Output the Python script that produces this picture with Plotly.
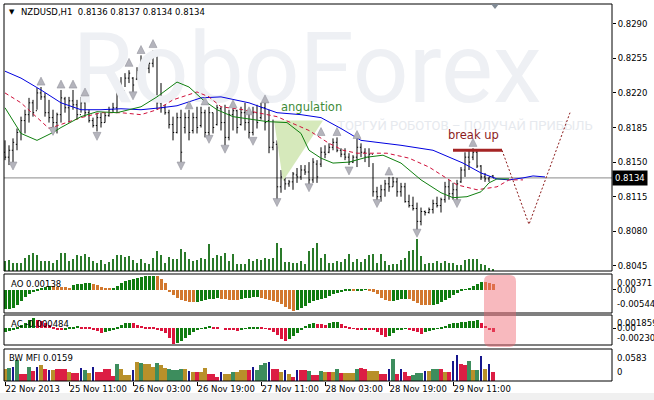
import plotly.graph_objects as go

W, H = 654, 400

BAR_INDEX = list(range(123))
OPEN = [0.8160,0.8155,0.8162,0.8168,0.8180,0.8192,0.8198,0.8210,0.8202,0.8220,
        0.8216,0.8200,0.8195,0.8190,0.8198,0.8214,0.8205,0.8212,0.8208,0.8198,
        0.8210,0.8200,0.8192,0.8187,0.8195,0.8190,0.8197,0.8203,0.8205,0.8228,
        0.8222,0.8235,0.8235,0.8234,0.8243,0.8252,0.8245,0.8250,0.8258,0.8210,
        0.8205,0.8200,0.8188,0.8180,0.8195,0.8185,0.8195,0.8182,0.8195,0.8187,
        0.8200,0.8180,0.8200,0.8188,0.8204,0.8190,0.8175,0.8198,0.8202,0.8188,
        0.8200,0.8190,0.8180,0.8200,0.8195,0.8205,0.8192,0.8165,0.8168,0.8125,
        0.8132,0.8128,0.8130,0.8137,0.8135,0.8142,0.8140,0.8132,0.8148,0.8148,
        0.8160,0.8160,0.8165,0.8170,0.8162,0.8158,0.8155,0.8150,0.8155,0.8165,
        0.8160,0.8155,0.8158,0.8120,0.8115,0.8122,0.8128,0.8125,0.8130,0.8120,
        0.8125,0.8110,0.8106,0.8103,0.8090,0.8100,0.8099,0.8102,0.8108,0.8106,
        0.8112,0.8125,0.8118,0.8122,0.8130,0.8142,0.8155,0.8155,0.8160,0.8146,
        0.8135,0.8133,0.8136]
HIGH = [0.8172,0.8167,0.8174,0.8184,0.8196,0.8203,0.8215,0.8213,0.8225,0.8226,
        0.8220,0.8213,0.8203,0.8200,0.8223,0.8216,0.8216,0.8223,0.8213,0.8216,
        0.8216,0.8203,0.8195,0.8200,0.8200,0.8200,0.8206,0.8210,0.8231,0.8236,
        0.8240,0.8243,0.8236,0.8246,0.8258,0.8256,0.8253,0.8263,0.8260,0.8230,
        0.8208,0.8203,0.8196,0.8200,0.8203,0.8200,0.8203,0.8200,0.8206,0.8206,
        0.8203,0.8206,0.8200,0.8208,0.8206,0.8208,0.8203,0.8204,0.8203,0.8206,
        0.8210,0.8199,0.8206,0.8208,0.8210,0.8211,0.8203,0.8193,0.8172,0.8142,
        0.8134,0.8132,0.8140,0.8144,0.8147,0.8147,0.8150,0.8154,0.8152,0.8165,
        0.8167,0.8169,0.8174,0.8175,0.8164,0.8164,0.8159,0.8157,0.8174,0.8169,
        0.8164,0.8164,0.8149,0.8125,0.8127,0.8132,0.8135,0.8135,0.8134,0.8129,
        0.8129,0.8117,0.8115,0.8109,0.8104,0.8101,0.8104,0.8112,0.8115,0.8114,
        0.8130,0.8132,0.8129,0.8132,0.8145,0.8160,0.8162,0.8164,0.8162,0.8147,
        0.8139,0.8135,0.8137]
LOW = [0.8152,0.8147,0.8149,0.8162,0.8172,0.8179,0.8190,0.8196,0.8203,0.8213,
       0.8196,0.8190,0.8185,0.8179,0.8190,0.8200,0.8190,0.8203,0.8193,0.8200,
       0.8196,0.8190,0.8185,0.8181,0.8185,0.8190,0.8196,0.8200,0.8200,0.8216,
       0.8226,0.8230,0.8221,0.8233,0.8236,0.8240,0.8240,0.8246,0.8203,0.8200,
       0.8198,0.8184,0.8172,0.8179,0.8150,0.8179,0.8172,0.8179,0.8179,0.8185,
       0.8175,0.8175,0.8179,0.8187,0.8182,0.8167,0.8172,0.8182,0.8179,0.8187,
       0.8182,0.8174,0.8177,0.8184,0.8193,0.8182,0.8159,0.8162,0.8112,0.8119,
       0.8122,0.8125,0.8122,0.8129,0.8132,0.8137,0.8127,0.8129,0.8129,0.8145,
       0.8154,0.8159,0.8162,0.8160,0.8155,0.8152,0.8147,0.8149,0.8145,0.8155,
       0.8150,0.8145,0.8115,0.8110,0.8110,0.8115,0.8120,0.8125,0.8115,0.8115,
       0.8109,0.8104,0.8101,0.8081,0.8086,0.8096,0.8098,0.8098,0.8104,0.8099,
       0.8109,0.8112,0.8112,0.8110,0.8129,0.8135,0.8142,0.8152,0.8144,0.8132,
       0.8130,0.8130,0.8134]
CLOSE = [0.8155,0.8162,0.8170,0.8180,0.8192,0.8198,0.8210,0.8200,0.8220,0.8216,
         0.8200,0.8195,0.8190,0.8198,0.8215,0.8205,0.8212,0.8208,0.8198,0.8210,
         0.8200,0.8192,0.8187,0.8195,0.8190,0.8197,0.8203,0.8205,0.8228,0.8222,
         0.8235,0.8240,0.8228,0.8243,0.8252,0.8245,0.8250,0.8258,0.8210,0.8205,
         0.8200,0.8188,0.8180,0.8195,0.8160,0.8195,0.8180,0.8195,0.8185,0.8200,
         0.8180,0.8200,0.8185,0.8205,0.8190,0.8175,0.8198,0.8202,0.8185,0.8200,
         0.8190,0.8180,0.8200,0.8190,0.8205,0.8190,0.8165,0.8170,0.8125,0.8135,
         0.8128,0.8130,0.8138,0.8135,0.8142,0.8140,0.8132,0.8150,0.8135,0.8160,
         0.8158,0.8165,0.8170,0.8162,0.8158,0.8155,0.8150,0.8155,0.8165,0.8160,
         0.8155,0.8158,0.8120,0.8115,0.8122,0.8128,0.8125,0.8130,0.8120,0.8125,
         0.8110,0.8106,0.8103,0.8090,0.8100,0.8099,0.8102,0.8108,0.8106,0.8112,
         0.8125,0.8118,0.8122,0.8128,0.8142,0.8155,0.8150,0.8160,0.8146,0.8135,
         0.8133,0.8135,0.8134]

VOLUME = [1000,1070,840,770,840,1340,1570,1840,1570,1000,
          1000,1000,840,1070,1770,1770,1000,1240,1570,1500,
          1670,1440,1000,840,1100,740,900,1170,1570,1570,
          1440,1500,1070,840,1170,840,740,1340,2000,1570,
          840,1400,1170,1170,2170,1900,1170,1000,1100,1340,
          1170,2670,1340,1600,1500,1840,1000,1670,740,740,
          740,1240,1000,1170,1100,1340,1170,1340,2770,2340,
          900,900,840,840,1000,740,2000,2340,2840,1340,
          1670,840,840,1000,900,1170,1670,900,1170,900,
          1240,1570,1670,840,1670,1000,570,740,740,1100,
          1340,2000,2100,3170,1500,670,840,840,1000,840,
          1000,770,840,570,570,1100,1170,1170,1170,670,
          570,340,240]

# Alligator (knots)
JAW_X = [0,4,9,14,19,24,29,34,39,43,49,54,61,68,74,79,84,89,99,107,114.5,119,123,126,129.5,132,135]
JAW_Y = [0.8242,0.8235,0.8223,0.8210,0.8203,0.8203,0.8204,0.8203,0.8205,0.8207,0.8215,0.8216,0.8210,
         0.8200,0.8198,0.8195,0.8184,0.8172,0.8167,0.8162,0.8149,0.8139,0.8133,0.8132,0.8134,0.8136,0.8135]
TEETH_X = [0,4,11,19,24,29,34,38,42,48,51,54,59.5,68,76,81,84.5,88,95.5,101,106,113,118,123,126,129.5]
TEETH_Y = [0.8220,0.8210,0.8184,0.8195,0.8200,0.8200,0.8198,0.8203,0.8213,0.8221,0.8216,0.8206,0.8203,
           0.8196,0.8182,0.8169,0.8162,0.8159,0.8159,0.8154,0.8145,0.8127,0.8122,0.8125,0.8132,0.8132]
LIPS_X = [0,4,8,12,14,19,23,28,34,38,43,46,49.5,53,57,65.5,70.5,74,76,79,82,86,90.5,94.5,99,104,109,112,115.5,119,121,123,126]
LIPS_Y = [0.8205,0.8179,0.8172,0.8180,0.8185,0.8196,0.8201,0.8200,0.8206,0.8216,0.8231,0.8226,0.8213,
          0.8203,0.8196,0.8191,0.8190,0.8179,0.8162,0.8154,0.8149,0.8150,0.8155,0.8157,0.8149,0.8132,
          0.8119,0.8114,0.8115,0.8120,0.8129,0.8133,0.8133]

FRACTAL_UP_X = [9,14,17,20,31,34,37,46,50,57,61,65,79,83,88,96,117]
FRACTAL_UP_Y = [0.8236,0.8233,0.8233,0.8225,0.8255,0.8268,0.8274,0.8212,0.8216,0.8213,0.8206,0.8218,
                0.8185,0.8185,0.8182,0.8145,0.8174]
FRACTAL_DN_X = [2,12,23,32,44,51,55,62,68,76,86,93,103,113]
FRACTAL_DN_Y = [0.8142,0.8177,0.8172,0.8213,0.8142,0.8169,0.8159,0.8167,0.8105,0.8120,0.8137,0.8104,
                0.8074,0.8104]

ANGULATION_X = [67.25, 79.5, 69.5]
ANGULATION_Y = [0.8192, 0.8192, 0.8131]
BREAK_X = [112, 124.25]
BREAK_Y = [0.8162, 0.8162]
FORECAST_X = [124.25, 131, 141.25]
FORECAST_Y = [0.8162, 0.8087, 0.8200]

AO = [-0.00458,-0.00450,-0.00434,-0.00364,-0.00262,-0.00176,-0.00098,-0.00051,-0.00012,0.00035,
      0.00067,0.00090,0.00088,0.00074,0.00067,0.00059,0.00051,0.00106,0.00129,0.00145,
      0.00153,0.00160,0.00137,0.00113,0.00074,0.00051,0.00027,0.00043,0.00090,0.00153,
      0.00199,0.00239,0.00262,0.00285,0.00301,0.00317,0.00325,0.00332,0.00317,0.00262,
      0.00168,-0.00051,-0.00129,-0.00192,-0.00239,-0.00262,-0.00278,-0.00285,-0.00278,-0.00262,
      -0.00239,-0.00223,-0.00207,-0.00199,-0.00207,-0.00223,-0.00231,-0.00238,-0.00246,-0.00223,
      -0.00199,-0.00184,-0.00176,-0.00168,-0.00184,-0.00207,-0.00238,-0.00262,-0.00293,-0.00340,
      -0.00395,-0.00442,-0.00497,-0.00481,-0.00434,-0.00379,-0.00317,-0.00270,-0.00231,-0.00207,
      -0.00184,-0.00145,-0.00098,-0.00066,-0.00051,-0.00035,-0.00020,-0.00035,-0.00027,-0.00012,
      -0.00004,-0.00020,-0.00043,-0.00106,-0.00184,-0.00246,-0.00270,-0.00262,-0.00238,-0.00215,
      -0.00207,-0.00223,-0.00270,-0.00317,-0.00348,-0.00356,-0.00364,-0.00348,-0.00324,-0.00278,
      -0.00231,-0.00184,-0.00129,-0.00074,-0.00035,-0.00004,0.00051,0.00098,0.00145,0.00184,
      0.00180,0.00160,0.00138]

AC = [-0.00055,-0.00035,-0.00014,0.00014,0.00042,0.00069,0.00111,0.00139,0.00111,0.00097,
      0.00069,0.00042,0.00014,-0.00014,-0.00028,-0.00014,0.00007,0.00021,0.00028,0.00021,
      0.00014,0.00007,-0.00014,-0.00042,-0.00069,-0.00055,-0.00035,-0.00014,0.00014,0.00042,
      0.00069,0.00076,0.00069,0.00049,0.00035,0.00021,0.00014,0.00007,-0.00014,-0.00042,
      -0.00069,-0.00139,-0.00215,-0.00208,-0.00180,-0.00139,-0.00097,-0.00055,-0.00028,-0.00007,
      0.00014,0.00028,0.00021,0.00014,0.00000,-0.00014,-0.00021,-0.00028,-0.00035,-0.00021,
      -0.00007,0.00007,0.00014,0.00021,0.00014,-0.00007,-0.00028,-0.00055,-0.00097,-0.00152,
      -0.00180,-0.00152,-0.00111,-0.00069,-0.00014,0.00028,0.00055,0.00076,0.00062,0.00055,
      0.00049,0.00069,0.00083,0.00090,0.00055,0.00028,0.00014,-0.00007,-0.00014,-0.00021,
      -0.00014,-0.00017,-0.00028,-0.00055,-0.00097,-0.00125,-0.00111,-0.00069,-0.00028,-0.00014,
      -0.00007,-0.00028,-0.00042,-0.00055,-0.00076,-0.00055,-0.00042,-0.00028,-0.00007,0.00014,
      0.00035,0.00055,0.00069,0.00076,0.00083,0.00090,0.00097,0.00104,0.00111,0.00069,
      0.00028,-0.00014,-0.000484]

MFI = [0.0224,0.0237,0.0255,0.0377,0.0133,0.0133,0.0255,0.0182,0.0255,0.0286,
       0.0213,0.0206,0.0206,0.0218,0.0218,0.0218,0.0164,0.0146,0.0146,0.0237,
       0.0206,0.0151,0.0255,0.0164,0.0164,0.0224,0.0224,0.0091,0.0315,0.0213,
       0.0104,0.0104,0.0206,0.0346,0.0328,0.0315,0.0315,0.0255,0.0333,0.0286,
       0.0237,0.0213,0.0206,0.0206,0.0224,0.0224,0.0177,0.0164,0.0164,0.0164,
       0.0237,0.0133,0.0133,0.0073,0.0164,0.0133,0.0133,0.0164,0.0164,0.0206,
       0.0206,0.0195,0.0255,0.0195,0.0286,0.0333,0.0346,0.0224,0.0213,0.0164,
       0.0195,0.0133,0.0073,0.0195,0.0195,0.0195,0.0177,0.0104,0.0104,0.0177,
       0.0164,0.0164,0.0164,0.0224,0.0151,0.0151,0.0151,0.0151,0.0224,0.0237,
       0.0224,0.0182,0.0182,0.0177,0.0133,0.0133,0.0224,0.0395,0.0133,0.0224,
       0.0164,0.0091,0.0104,0.0146,0.0146,0.0177,0.0177,0.0213,0.0224,0.0224,
       0.0164,0.0164,0.0359,0.0468,0.0315,0.0297,0.0359,0.0195,0.0195,0.0450,
       0.0224,0.0315,0.0159]
MFI_STATE = list("OGBGRRGRBO" "RBORRRORRB" "GOBRRRRRGO" "OOBOGOOOGO" "OGGGGOBORO"
                 "ORRRBOOGOO" "ORBGGGBRRO" "BORBRRGRRG" "OROGROOOGR" "ROOORRBGRB"
                 "RRGGGBOGGR" "ORBBRRGOGB" "OBR")

TIME_TICKS = [0, 16, 32, 48, 64, 80, 96, 112]
TIME_LABELS = ["22 Nov 2013", "25 Nov 11:00", "26 Nov 03:00", "26 Nov 19:00",
               "27 Nov 11:00", "28 Nov 03:00", "28 Nov 19:00", "29 Nov 11:00"]
PRICE_TICKS = [0.8045, 0.8080, 0.8115, 0.8150, 0.8185, 0.8220, 0.8255, 0.8290]
LAST_PRICE = 0.8134

FONT = "DejaVu Sans"
GREEN = "#107c10"
ORANGE = "#d2782e"
CRIMSON = "#dc143c"
MFI_COLORS = {"G": "#3d8d5d", "O": "#b8902a", "R": "#dc1e44", "B": "#16168c"}


def px(x):
    return x / W


def py(y):
    return 1 - y / H


X0, X1 = px(4), px(612)
DOM_MAIN = [py(271), py(4)]
DOM_AO = [py(313), py(274)]
DOM_AC = [py(345), py(315)]
DOM_MFI = [py(381), py(349)]

fig = go.Figure()

# watermark (drawn first, beneath everything)
fig.add_trace(go.Scatter(x=[75.5], y=[0.8236], mode="text", text=["RoboForex"],
                         textfont=dict(family="Roboto", size=98, color="#eef0f4"),
                         hoverinfo="skip", showlegend=False))
fig.add_trace(go.Scatter(x=[115], y=[0.8186], mode="text", text=["ТОРГУЙ РОБОТОВ – ПОЛУЧАЙ ПРИБЫЛЬ"],
                         textfont=dict(family="Roboto", size=13, color="#e6e9ee"),
                         hoverinfo="skip", showlegend=False))

# angulation area
fig.add_trace(go.Scatter(x=ANGULATION_X, y=ANGULATION_Y, fill="toself", mode="lines",
                         line=dict(width=0), fillcolor="#d6e9bb", hoverinfo="skip", showlegend=False))

# volumes
fig.add_trace(go.Bar(x=BAR_INDEX, y=VOLUME, yaxis="y5", width=0.25,
                     marker=dict(color="#2a7a2a", line=dict(width=0)), showlegend=False))

# price bars
fig.add_trace(go.Ohlc(x=BAR_INDEX, open=OPEN, high=HIGH, low=LOW, close=CLOSE,
                      increasing=dict(line=dict(color="black", width=1)),
                      decreasing=dict(line=dict(color="black", width=1)),
                      tickwidth=0.3, showlegend=False))

# alligator
fig.add_trace(go.Scatter(x=JAW_X, y=JAW_Y, mode="lines", line=dict(color="#0000e0", width=1), showlegend=False))
fig.add_trace(go.Scatter(x=TEETH_X, y=TEETH_Y, mode="lines", line=dict(color="#d0103a", width=1, dash="4px,3px"), showlegend=False))
fig.add_trace(go.Scatter(x=LIPS_X, y=LIPS_Y, mode="lines", line=dict(color="#108010", width=1), showlegend=False))

# fractals
fig.add_trace(go.Scatter(x=FRACTAL_UP_X, y=FRACTAL_UP_Y, mode="markers",
                         marker=dict(symbol="arrow-up", size=8, color="#b4b4bc",
                                     line=dict(color="#8c8c96", width=0.5)), showlegend=False))
fig.add_trace(go.Scatter(x=FRACTAL_DN_X, y=FRACTAL_DN_Y, mode="markers",
                         marker=dict(symbol="arrow-down", size=8, color="#b4b4bc",
                                     line=dict(color="#8c8c96", width=0.5)), showlegend=False))

# break up + forecast
fig.add_trace(go.Scatter(x=BREAK_X, y=BREAK_Y, mode="lines", line=dict(color="#a52424", width=3), showlegend=False))
fig.add_trace(go.Scatter(x=FORECAST_X, y=FORECAST_Y, mode="lines",
                         line=dict(color="#8b1a1a", width=1, dash="2px,2px"), showlegend=False))

# AO
ao_colors = [GREEN if i == 0 or AO[i] >= AO[i - 1] else ORANGE for i in range(len(AO))]
fig.add_trace(go.Bar(x=BAR_INDEX, y=AO, yaxis="y2", width=0.75,
                     marker=dict(color=ao_colors, line=dict(width=0)), showlegend=False))
# AC
ac_colors = [GREEN if i == 0 or AC[i] >= AC[i - 1] else CRIMSON for i in range(len(AC))]
fig.add_trace(go.Bar(x=BAR_INDEX, y=AC, yaxis="y3", width=0.75,
                     marker=dict(color=ac_colors, line=dict(width=0)), showlegend=False))
# BW MFI
fig.add_trace(go.Bar(x=BAR_INDEX, y=MFI, yaxis="y4",
                     width=[0.25 if s == "B" else 0.8 for s in MFI_STATE],
                     marker=dict(color=[MFI_COLORS[s] for s in MFI_STATE], line=dict(width=0)),
                     showlegend=False))

tickfont = dict(family=FONT, size=8.5, color="black")

shapes = []
for dom in (DOM_MAIN, DOM_AO, DOM_AC, DOM_MFI):
    shapes.append(dict(type="rect", xref="paper", yref="paper", x0=X0, x1=X1, y0=dom[0], y1=dom[1],
                       line=dict(color="black", width=1), fillcolor="rgba(0,0,0,0)", layer="above"))
shapes.append(dict(type="line", xref="paper", yref="y", x0=X0, x1=X1, y0=LAST_PRICE, y1=LAST_PRICE,
                   line=dict(color="#8a8a8a", width=1), layer="below"))
bx0, bx1 = 119.75, 127.75
by0, by1 = py(347), py(275)
rx, ry = 1.6, 0.016
path = (f"M {bx0+rx},{by1} L {bx1-rx},{by1} Q {bx1},{by1} {bx1},{by1-ry} "
        f"L {bx1},{by0+ry} Q {bx1},{by0} {bx1-rx},{by0} L {bx0+rx},{by0} "
        f"Q {bx0},{by0} {bx0},{by0+ry} L {bx0},{by1-ry} Q {bx0},{by1} {bx0+rx},{by1} Z")
shapes.append(dict(type="path", xref="x", yref="paper", path=path,
                   fillcolor="rgba(240,100,110,0.45)", line=dict(width=0), layer="above"))
shapes.append(dict(type="path", xref="paper", yref="paper",
                   path=f"M {px(491)},{py(4)} L {px(499)},{py(4)} L {px(495)},{py(9)} Z",
                   fillcolor="#808a94", line=dict(width=0)))
shapes.append(dict(type="rect", xref="paper", yref="paper", x0=0, x1=1, y0=0, y1=py(393),
                   fillcolor="#f0f0f0", line=dict(width=0), layer="below"))

annotations = [
    dict(xref="paper", yref="paper", x=px(12), y=py(12), text="▼", showarrow=False,
         font=dict(family=FONT, size=7, color="black"), xanchor="center", yanchor="middle"),
    dict(xref="paper", yref="paper", x=px(19), y=py(12), text="NZDUSD,H1  0.8136 0.8137 0.8134 0.8134",
         showarrow=False, font=tickfont, xanchor="left", yanchor="middle"),
    dict(xref="paper", yref="paper", x=px(9), y=py(284), text="AO 0.00138", showarrow=False,
         font=tickfont, xanchor="left", yanchor="middle"),
    dict(xref="paper", yref="paper", x=px(9), y=py(324), text="AC -0.000484", showarrow=False,
         font=tickfont, xanchor="left", yanchor="middle"),
    dict(xref="paper", yref="paper", x=px(7), y=py(358), text="BW MFI 0.0159", showarrow=False,
         font=tickfont, xanchor="left", yanchor="middle"),
    dict(xref="x", yref="y", x=76.5, y=0.8206, text="angulation", showarrow=False,
         font=dict(family=FONT, size=11.5, color="#3d8b37"), xanchor="center", yanchor="middle"),
    dict(xref="x", yref="y", x=117, y=0.8177, text="break up", showarrow=False,
         font=dict(family=FONT, size=11.5, color="#8b1c1c"), xanchor="center", yanchor="middle"),
    dict(xref="paper", yref="y", x=px(612), y=LAST_PRICE, text="0.8134", showarrow=False,
         font=dict(family=FONT, size=8.5, color="white"), bgcolor="black", borderpad=2,
         xanchor="left", yanchor="middle"),
]
lab_x = px(615)
for yref, text, yy, anc, shift in [
    ("y2 domain", "0.00371", 1, "top", -2), ("y2", "0.00", 0, "middle", 0), ("y2 domain", "-0.00544", 0, "bottom", 2),
    ("y3 domain", "0.001859", 1, "top", -1), ("y3", "0.00", 0, "middle", 0), ("y3 domain", "-0.00230", 0, "bottom", 0),
    ("y4 domain", "0.0583", 1, "top", -2), ("y4 domain", "0", 0, "bottom", 2),
]:
    annotations.append(dict(xref="paper", yref=yref, x=lab_x, y=yy, text=text, showarrow=False,
                            font=tickfont, xanchor="left", yanchor=anc, yshift=shift))

fig.update_layout(
    width=W, height=H, autosize=False,
    margin=dict(l=0, r=0, t=0, b=0, pad=0),
    paper_bgcolor="white", plot_bgcolor="white",
    barmode="overlay", bargap=0,
    showlegend=False,
    xaxis=dict(domain=[X0, X1], range=[-0.25, 151.75], anchor="y4", automargin=False,
               tickmode="array", tickvals=TIME_TICKS, ticktext=TIME_LABELS, tickangle=0,
               ticks="outside", ticklen=4, tickcolor="black", tickfont=tickfont,
               ticklabelposition="outside right",
               showgrid=False, zeroline=False, showline=False,
               rangeslider=dict(visible=False)),
    yaxis=dict(domain=DOM_MAIN, range=[0.80398, 0.83100], side="right", anchor="x", automargin=False,
               tickmode="array", tickvals=PRICE_TICKS, ticktext=[f"{v:.4f}" for v in PRICE_TICKS],
               ticks="outside", ticklen=3, tickcolor="black", tickfont=tickfont,
               showgrid=False, zeroline=False, showline=False),
    yaxis2=dict(domain=DOM_AO, range=[-0.00544, 0.00371], side="right", anchor="x", automargin=False,
                tickmode="array", tickvals=[0], ticks="outside", ticklen=3, tickcolor="black",
                showticklabels=False, showgrid=False, zeroline=False),
    yaxis3=dict(domain=DOM_AC, range=[-0.00230, 0.001859], side="right", anchor="x", automargin=False,
                tickmode="array", tickvals=[0], ticks="outside", ticklen=3, tickcolor="black",
                showticklabels=False, showgrid=False, zeroline=False),
    yaxis4=dict(domain=DOM_MFI, range=[0, 0.0583], side="right", anchor="x", automargin=False,
                showticklabels=False, ticks="", showgrid=False, zeroline=False),
    yaxis5=dict(overlaying="y", range=[0, 26700], visible=False, anchor="x", side="right", automargin=False),
    shapes=shapes,
    annotations=annotations,
)

fig.write_html("out.html", config={"displayModeBar": False},
               post_script="document.body.style.margin='0';document.body.style.padding='0';")
